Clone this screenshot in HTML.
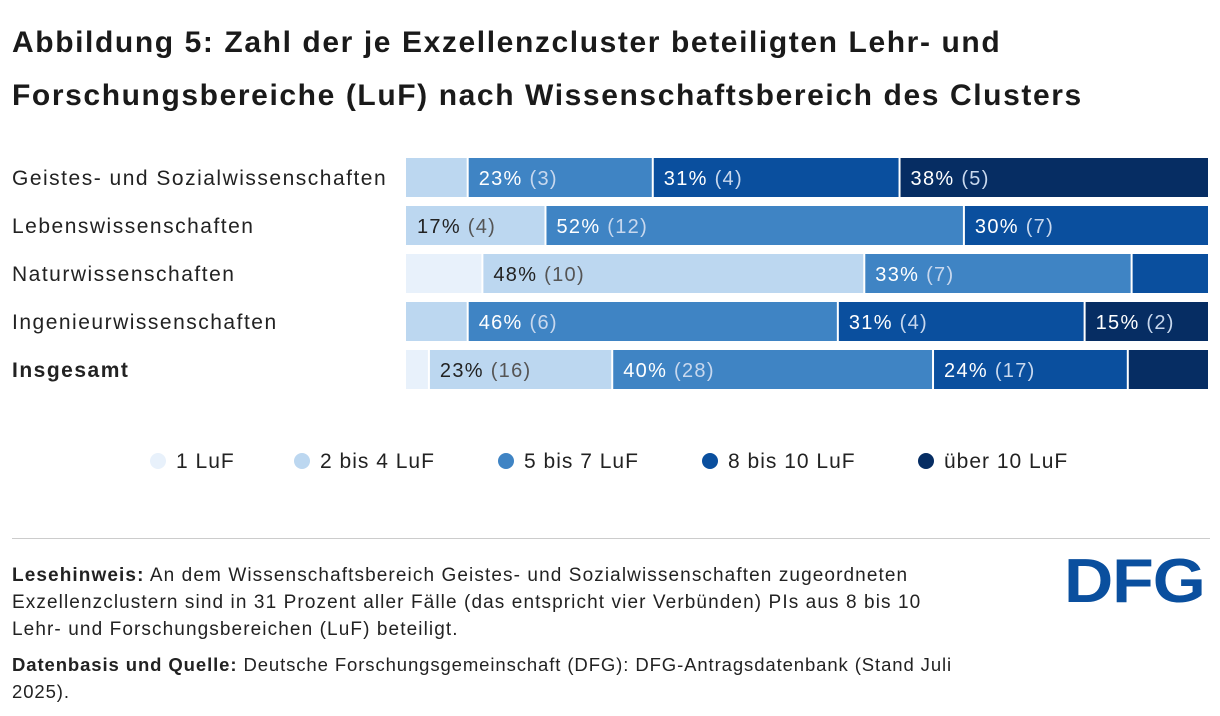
<!DOCTYPE html>
<html><head><meta charset="utf-8"><style>
body{margin:0;width:1220px;height:716px;background:#fff;font-family:"Liberation Sans",sans-serif;color:#222;overflow:hidden;position:relative}
.t{position:absolute;left:12px;top:16px;font-size:30px;font-weight:bold;line-height:53px;color:#1a1a1a;letter-spacing:1.6px;white-space:nowrap}
.cat{position:absolute;left:12px;font-size:21px;color:#222;letter-spacing:1.5px;white-space:nowrap}
.leg{position:absolute;top:450px;font-size:21px;color:#222;letter-spacing:1px}
.leg span{display:inline-block;width:16px;height:16px;border-radius:50%;vertical-align:-1px;margin-right:10px}
.note{position:absolute;left:12px;font-size:19px;line-height:27px;color:#222;letter-spacing:1.1px}
</style></head><body>
<div class="t">Abbildung 5: Zahl der je Exzellenzcluster beteiligten Lehr- und<br>Forschungsbereiche (LuF) nach Wissenschaftsbereich des Clusters</div>
<svg id="chart" width="1220" height="420" style="position:absolute;left:0;top:0"></svg>
<div class="leg" style="left:150px"><span style="background:#e8f1fb"></span>1 LuF</div>
<div class="leg" style="left:294px"><span style="background:#bcd7f0"></span>2 bis 4 LuF</div>
<div class="leg" style="left:498px"><span style="background:#3f84c4"></span>5 bis 7 LuF</div>
<div class="leg" style="left:702px"><span style="background:#0a4f9e"></span>8 bis 10 LuF</div>
<div class="leg" style="left:918px"><span style="background:#062d63"></span>über 10 LuF</div>
<div style="position:absolute;left:12px;top:538px;width:1198px;height:1px;background:#ccc"></div>
<div class="note" style="top:562px;width:1020px"><b>Lesehinweis:</b> An dem Wissenschaftsbereich Geistes- und Sozialwissenschaften zugeordneten<br>Exzellenzclustern sind in 31 Prozent aller Fälle (das entspricht vier Verbünden) PIs aus 8 bis 10<br>Lehr- und Forschungsbereichen (LuF) beteiligt.</div>
<div class="note" style="top:651px;width:1000px;font-size:18.5px;letter-spacing:0.9px"><b>Datenbasis und Quelle:</b> Deutsche Forschungsgemeinschaft (DFG): DFG-Antragsdatenbank (Stand Juli 2025).</div>
<div style="position:absolute;left:1064px;top:551px;font-size:62px;line-height:62px;font-weight:900;color:#0a4f9e;letter-spacing:-1px;transform:scaleX(1.1);transform-origin:left top;font-family:'Liberation Sans',sans-serif">DFG</div>
<script>
const categories=["Geistes- und Sozialwissenschaften","Lebenswissenschaften","Naturwissenschaften","Ingenieurwissenschaften","Insgesamt"];
const s1=[0,0,2,0,2];
const s2=[1,4,10,1,16];
const s3=[3,12,7,6,28];
const s4=[4,7,2,4,17];
const s5=[5,0,0,2,7];
const colors=["#e8f1fb","#bcd7f0","#3f84c4","#0a4f9e","#062d63"];
const svg=document.getElementById('chart');const NS="http://www.w3.org/2000/svg";
const x0=406,W=802,y0=158,step=48,h=39;
const xs=v=>v*W;
categories.forEach((c,i)=>{
  const d=document.createElement('div');d.className='cat';d.style.top=(y0+i*step+9)+'px';
  if(i===4)d.style.fontWeight='bold';d.textContent=c;
  
  
  document.body.appendChild(d);
  const vals=[s1[i],s2[i],s3[i],s4[i],s5[i]];const tot=vals.reduce((a,b)=>a+b,0);
  let acc=0;
  vals.forEach((v,k)=>{
    if(!v)return;
    const xa=x0+xs(acc/tot),xb=x0+xs((acc+v)/tot);acc+=v;
    const r=document.createElementNS(NS,'rect');
    r.setAttribute('x',xa+(xa>x0?1:0));r.setAttribute('y',y0+i*step);
    r.setAttribute('width',Math.max(0,xb-xa-(xa>x0?1:0)-(xb<x0+W-0.5?1:0)));r.setAttribute('height',h);
    r.setAttribute('fill',colors[k]);
    
    
    svg.appendChild(r);
    if(xb-xa>100){
      const t=document.createElementNS(NS,'text');
      t.setAttribute('x',xa+11);t.setAttribute('y',y0+i*step+27);
      t.setAttribute('font-size','20');t.setAttribute('font-family','Liberation Sans, sans-serif');
      t.setAttribute('letter-spacing','1.3');
      const light=k<2;
      const p=document.createElementNS(NS,'tspan');p.textContent=Math.round(v/tot*100)+'% ';p.setAttribute('fill',light?'#222':'#fff');
      const q=document.createElementNS(NS,'tspan');q.textContent='('+v+')';q.setAttribute('fill',light?'#555':'#c8d8ee');
      t.appendChild(p);t.appendChild(q);
      
      
      svg.appendChild(t);
    }
  });
});
</script>
</body></html>
